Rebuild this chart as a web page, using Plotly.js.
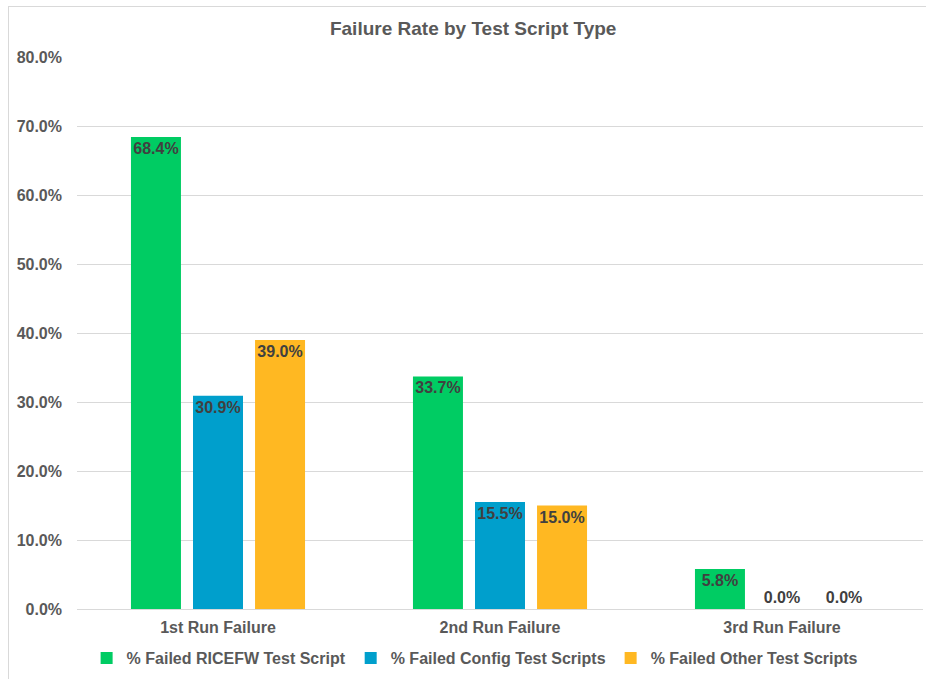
<!DOCTYPE html>
<html>
<head>
<meta charset="utf-8">
<script src="https://cdn.plot.ly/plotly-3.0.1.min.js"></script>
<style>
  html, body { margin: 0; padding: 0; background: #fff; }
  #chart { position: absolute; left: 0; top: 0; width: 926px; height: 679px; }
  #frame { position: absolute; left: 8px; top: 6px; width: 940px; height: 700px; border: 1px solid #d9d9d9; pointer-events: none; }
</style>
</head>
<body>
<div id="chart"></div>
<div id="frame"></div>
<script>
const categories = ["1st Run Failure", "2nd Run Failure", "3rd Run Failure"];
const seriesNames = ["% Failed RICEFW Test Script", "% Failed Config Test Scripts", "% Failed Other Test Scripts"];
const ricefw = [0.684, 0.337, 0.058];
const config = [0.309, 0.155, 0.0];
const other = [0.390, 0.150, 0.0];
const yTicks = [0, 0.1, 0.2, 0.3, 0.4, 0.5, 0.6, 0.7, 0.8];

const FONT = "Liberation Sans, Arial, sans-serif";
const colors = ["#00CC63", "#009FCC", "#FFB822"];
const labelFont = { family: FONT, size: 16, color: "#404040", weight: "bold" };

const traces = [ricefw, config, other].map((vals, i) => ({
  type: "bar",
  name: seriesNames[i],
  x: categories,
  y: vals,
  marker: { color: colors[i] },
  texttemplate: "%{y:.1%}",
  textposition: vals.map(v => (v > 0.03 ? "inside" : "outside")),
  insidetextanchor: "end",
  insidetextfont: labelFont,
  outsidetextfont: labelFont,
  textangle: 0,
  constraintext: "none",
  cliponaxis: false,
  hoverinfo: "skip"
}));

const layout = {
  width: 926,
  height: 679,
  margin: { l: 77, r: 3, t: 57, b: 70 },
  paper_bgcolor: "#ffffff",
  plot_bgcolor: "#ffffff",
  barmode: "group",
  bargap: 0.34,
  bargroupgap: 0.194,
  title: {
    text: "Failure Rate by Test Script Type",
    font: { family: FONT, size: 19, color: "#595959", weight: "bold" },
    xref: "container", x: 0.511, xanchor: "center",
    yref: "container", y: 1 - 28 / 679, yanchor: "middle"
  },
  xaxis: {
    type: "category",
    showgrid: false,
    showline: true,
    linecolor: "#d9d9d9",
    linewidth: 1,
    ticks: "",
    tickfont: { family: FONT, size: 16, color: "#595959", weight: "bold" },
    ticklabelstandoff: 4
  },
  yaxis: {
    range: [0, 0.8],
    tickvals: yTicks,
    tickformat: ".1%",
    showgrid: true,
    gridcolor: "#d9d9d9",
    gridwidth: 1,
    zeroline: false,
    showline: false,
    ticks: "",
    tickfont: { family: FONT, size: 16, color: "#595959", weight: "bold" },
    ticklabelstandoff: 14
  },
  showlegend: true,
  legend: {
    orientation: "h",
    x: 0.47, xanchor: "center",
    y: -0.089, yanchor: "middle",
    font: { family: FONT, size: 16, color: "#595959", weight: "bold" },
    itemwidth: 30,
    traceorder: "normal"
  }
};

Plotly.newPlot("chart", traces, layout, { displayModeBar: false, staticPlot: true });
</script>
</body>
</html>
